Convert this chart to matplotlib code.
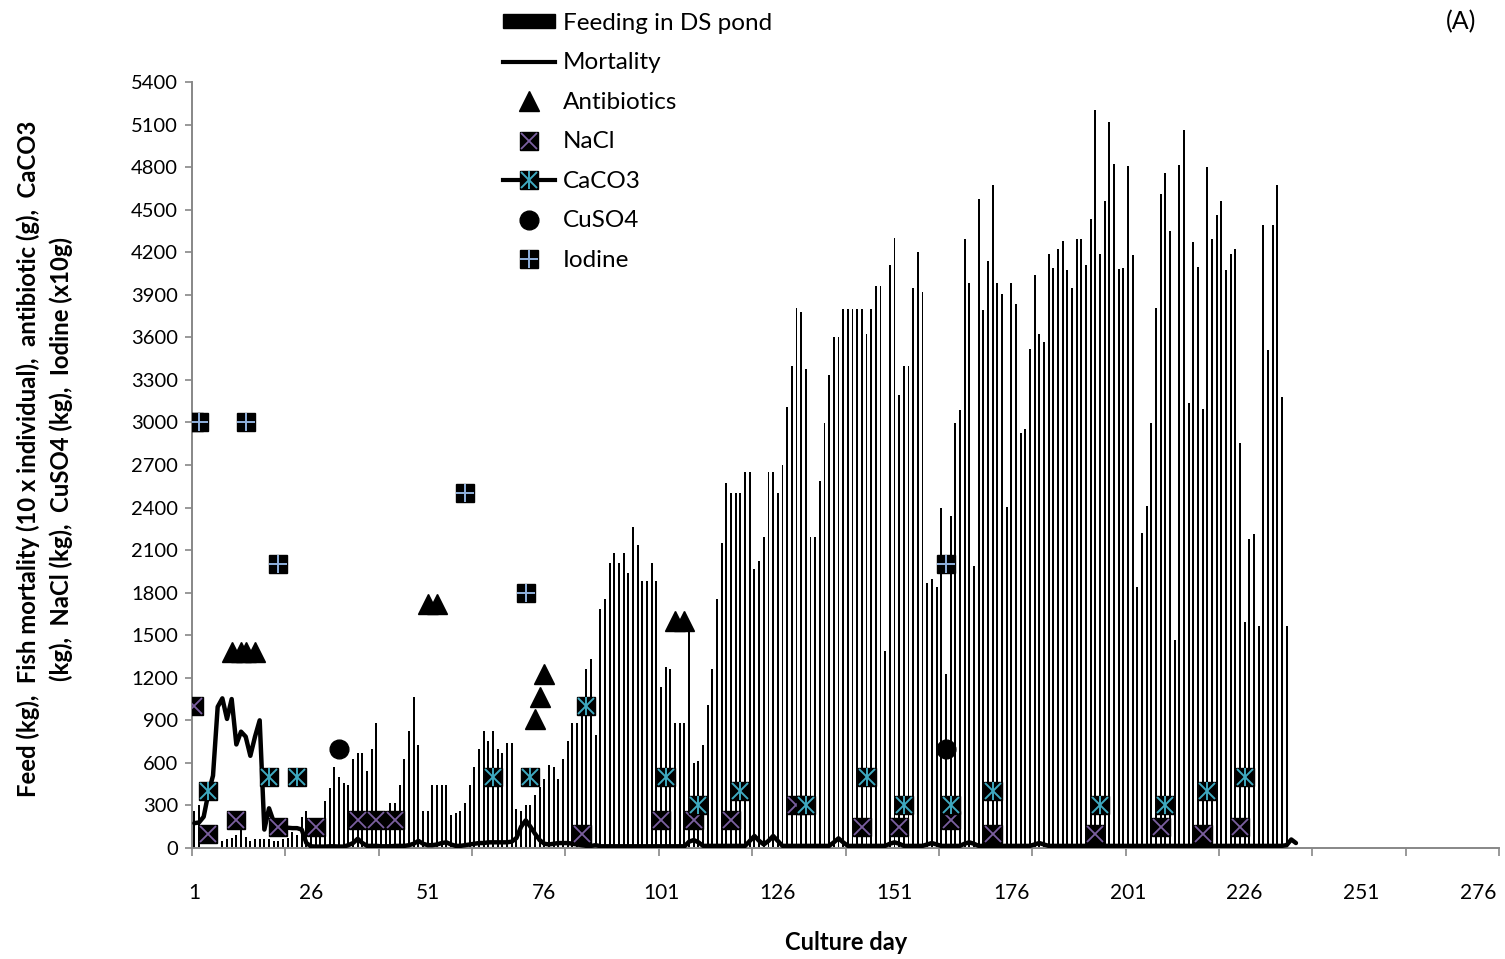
import matplotlib
matplotlib.use('Agg')
import matplotlib.pyplot as plt
from matplotlib.lines import Line2D
from matplotlib.patches import Patch
import numpy as np

plt.rcParams['font.family'] = ['Lato', 'DejaVu Sans']

# ---------------- data ----------------
feed = [261, 300, 0, 0, 0, 0, 50, 63, 73, 89,
        197, 78, 50, 63, 63, 63, 63, 50, 50, 63,
        73, 115, 90, 221, 261, 120, 120, 150, 334, 421,
        573, 503, 456, 444, 630, 672, 672, 545, 700, 883,
        250, 250, 315, 315, 444, 627, 825, 1062, 726, 261,
        261, 444, 444, 444, 444, 233, 249, 261, 315, 444,
        573, 698, 825, 754, 825, 698, 672, 740, 740, 275,
        261, 303, 303, 374, 432, 486, 585, 573, 486, 627,
        754, 879, 879, 973, 1262, 1330, 797, 1683, 1755, 2007,
        2077, 2007, 2077, 1936, 2261, 2134, 1882, 1882, 2007, 1882,
        1133, 1274, 1260, 879, 879, 879, 1600, 597, 613, 726,
        1006, 1262, 1755, 2152, 2571, 2500, 2500, 2500, 2650, 2650,
        1965, 2023, 2190, 2650, 2650, 2500, 2703, 3111, 3397, 3808,
        3780, 3380, 2193, 2193, 2588, 2996, 3333, 3603, 3603, 3802,
        3802, 3802, 3802, 3802, 3623, 3802, 3959, 3959, 1387, 4113,
        4300, 3194, 3397, 3397, 3945, 4201, 3918, 1870, 1898, 1843,
        2395, 1230, 2340, 2996, 3090, 4293, 3985, 1990, 4578, 3796,
        4135, 4675, 3981, 3906, 2407, 3981, 3836, 2926, 2957, 3520,
        4038, 3621, 3568, 4189, 4092, 4223, 4276, 4075, 3951, 4290,
        4290, 4108, 4434, 5200, 4189, 4561, 5115, 4820, 4082, 4092,
        4805, 4177, 1840, 2222, 2412, 2998, 3808, 4608, 4757, 4350,
        1464, 4818, 5060, 3136, 4274, 4095, 3095, 4804, 4290, 4463,
        4560, 4077, 4188, 4222, 2853, 1592, 2181, 2212, 1567, 4390,
        3508, 4390, 4677, 3181, 1567]

mortality = [175, 180, 220, 385, 510, 995, 1055, 910, 1050, 730,
             820, 785, 650, 785, 900, 130, 280, 185, 150, 145,
             143, 140, 140, 130, 35, 12, 10, 10, 10, 12,
             12, 10, 10, 20, 35, 65, 35, 15, 15, 15,
             12, 12, 12, 15, 15, 15, 20, 30, 50, 30,
             20, 20, 25, 35, 40, 25, 15, 15, 20, 25,
             30, 35, 35, 40, 40, 40, 40, 40, 45, 70,
             150, 195, 150, 100, 55, 30, 25, 30, 35, 35,
             35, 30, 25, 20, 15, 15, 20, 12, 12, 12,
             12, 12, 12, 12, 12, 12, 12, 12, 12, 12,
             12, 12, 12, 12, 12, 12, 45, 56, 40, 15,
             15, 15, 15, 15, 15, 15, 15, 15, 15, 50,
             85, 50, 25, 50, 85, 50, 15, 15, 15, 15,
             15, 15, 15, 15, 15, 15, 15, 40, 68, 40,
             15, 15, 15, 15, 15, 15, 15, 15, 15, 30,
             40, 30, 15, 15, 15, 15, 15, 25, 35, 25,
             15, 15, 15, 15, 15, 30, 40, 30, 15, 15,
             15, 15, 15, 15, 15, 15, 15, 15, 15, 15,
             25, 35, 25, 15, 15, 15, 15, 15, 15, 15,
             15, 15, 15, 15, 15, 15, 15, 15, 15, 15,
             15, 15, 15, 15, 15, 15, 15, 15, 15, 15,
             15, 15, 15, 15, 15, 15, 15, 15, 15, 15,
             15, 15, 15, 15, 15, 15, 15, 15, 15, 15,
             15, 15, 15, 15, 20, 60, 35]

antibiotic_days = [9, 11, 12, 14, 51, 53, 74, 75, 76, 104, 106]
antibiotic_vals = [1380, 1380, 1380, 1380, 1720, 1720, 910, 1065, 1225, 1600, 1600]

nacl_days = [1, 4, 10, 19, 27, 36, 40, 44, 84, 101, 108, 116, 130, 144, 152,
             163, 172, 194, 208, 217, 225]
nacl_vals = [1000, 100, 200, 150, 150, 200, 200, 200, 100, 200, 200, 200, 300, 150, 150,
             200, 100, 100, 150, 100, 150]

caco3_days = [1, 4, 17, 23, 65, 73, 85, 102, 109, 118, 132, 145, 153, 163, 172,
              195, 209, 218, 226]
caco3_vals = [3000, 400, 500, 500, 500, 500, 1000, 500, 300, 400, 300, 500, 300, 300, 400,
              300, 300, 400, 500]

cuso4_days = [32, 162]
cuso4_vals = [700, 700]

iodine_days = [2, 12, 19, 59, 72, 162]
iodine_vals = [3000, 3000, 2000, 2500, 1800, 2000]

x_label_days = [1, 26, 51, 76, 101, 126, 151, 176, 201, 226, 251, 276]
y_ticks = list(range(0, 5401, 300))

# ---------------- figure ----------------
W, H = 1505, 959
fig = plt.figure(figsize=(W / 100, H / 100), dpi=100)
L, R, B, T = 192 / W, 1499 / W, 1 - 848 / H, 1 - 82 / H
ax = fig.add_axes([L, B, R - L, T - B])

feed_days = np.arange(1, len(feed) + 1)
mort_days = np.arange(1, len(mortality) + 1)

ax.bar(feed_days, feed, width=0.42, color='black', zorder=2, linewidth=0)
ax.plot(mort_days, mortality, color='black', lw=3.2, zorder=3,
        solid_joinstyle='round', solid_capstyle='round')

PURPLE = '#7b5fa0'
TEAL = '#3fa9c0'
LBLUE = '#8fb0dc'
MS = 12.5

ax.plot(antibiotic_days, antibiotic_vals, ls='none', marker='^', ms=14,
        color='black', zorder=4)
ax.plot(nacl_days, nacl_vals, ls='none', marker='s', ms=MS, color='black', zorder=5)
ax.plot(nacl_days, nacl_vals, ls='none', marker='x', ms=MS - 1, mew=1.3,
        color=PURPLE, zorder=5)
ax.plot(caco3_days, caco3_vals, ls='none', marker='s', ms=MS, color='black', zorder=6)
ax.plot(caco3_days, caco3_vals, ls='none', marker='x', ms=MS - 1, mew=1.4,
        color=TEAL, zorder=6)
ax.plot(caco3_days, caco3_vals, ls='none', marker='|', ms=MS, mew=1.4,
        color=TEAL, zorder=6)
ax.plot(cuso4_days, cuso4_vals, ls='none', marker='o', ms=MS + 1, color='black', zorder=7)
ax.plot(iodine_days, iodine_vals, ls='none', marker='s', ms=MS, color='black', zorder=8)
ax.plot(iodine_days, iodine_vals, ls='none', marker='+', ms=MS, mew=1.4,
        color=LBLUE, zorder=8)

# axes styling
GRAY = '#878787'
ax.set_xlim(0.5, 280.5)
ax.set_ylim(0, 5400)
for s in ['top', 'right']:
    ax.spines[s].set_visible(False)
for s in ['left', 'bottom']:
    ax.spines[s].set_color(GRAY)
    ax.spines[s].set_linewidth(1.4)

ax.set_yticks(y_ticks)
ax.set_yticklabels([str(v) for v in y_ticks])
ax.tick_params(axis='y', length=5, width=1.2, color=GRAY, pad=5, labelsize=14.5,
               labelcolor='black')

ax.set_xticks(np.arange(0.5, 281, 20))
ax.set_xticklabels([])
ax.tick_params(axis='x', which='major', length=6, width=1.2, color=GRAY)
ax.set_xticks(x_label_days, minor=True)
ax.set_xticklabels([str(d) for d in x_label_days], minor=True)
ax.tick_params(axis='x', which='minor', length=0, pad=25, labelsize=15,
               labelcolor='black')

fig.text(28 / W, 1 - 459 / H,
         'Feed (kg),  Fish mortality (10 x individual),  antibiotic (g),  CaCO3',
         rotation=90, ha='center', va='center', fontsize=17.2, fontweight='bold')
fig.text(61 / W, 1 - 459 / H,
         '(kg),  NaCl (kg),  CuSO4 (kg),  Iodine (x10g)',
         rotation=90, ha='center', va='center', fontsize=17.2, fontweight='bold')
fig.text(846 / W, 1 - 943 / H, 'Culture day', ha='center', va='center',
         fontsize=17, fontweight='bold')
fig.text(1461 / W, 1 - 22 / H, '(A)', ha='center', va='center', fontsize=18)

# legend
h_feed = Patch(facecolor='black', edgecolor='black')
h_mort = Line2D([], [], color='black', lw=3)
h_anti = Line2D([], [], ls='none', marker='^', ms=14, color='black')
h_nacl = (Line2D([], [], ls='none', marker='s', ms=MS, color='black'),
          Line2D([], [], ls='none', marker='x', ms=MS - 1, mew=1.3, color=PURPLE))
h_caco = (Line2D([], [], color='black', lw=3),
          Line2D([], [], ls='none', marker='s', ms=MS, color='black'),
          Line2D([], [], ls='none', marker='x', ms=MS - 1, mew=1.4, color=TEAL),
          Line2D([], [], ls='none', marker='|', ms=MS, mew=1.4, color=TEAL))
h_cuso = Line2D([], [], ls='none', marker='o', ms=MS + 1, color='black')
h_iod = (Line2D([], [], ls='none', marker='s', ms=MS, color='black'),
         Line2D([], [], ls='none', marker='+', ms=MS, mew=1.4, color=LBLUE))
fig.legend([h_feed, h_mort, h_anti, h_nacl, h_caco, h_cuso, h_iod],
           ['Feeding in DS pond', 'Mortality', 'Antibiotics', 'NaCl', 'CaCO3',
            'CuSO4', 'Iodine'],
           loc='upper left', bbox_to_anchor=(503 / W, 1 - 13 / H), frameon=False,
           fontsize=17.5, handlelength=2.15, handleheight=0.5, handletextpad=0.3,
           labelspacing=0.76, borderpad=0, borderaxespad=0)

fig.savefig('out.png', dpi=100)
